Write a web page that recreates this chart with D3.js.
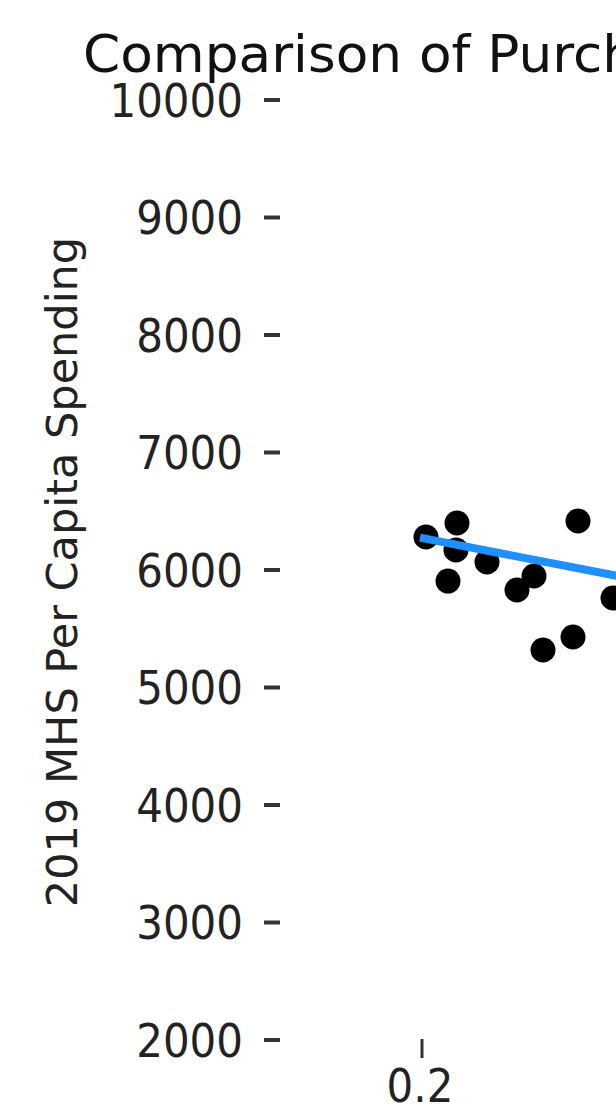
<!DOCTYPE html>
<html>
<head>
<meta charset="utf-8">
<script src="https://cdn.jsdelivr.net/npm/d3@7"></script>
<style>
  body { margin: 0; background: #fff; }
  svg { display: block; font-family: "DejaVu Sans", sans-serif; }
</style>
</head>
<body>
<div id="chart"></div>
<script>
// purchasing share (x) vs 2019 MHS per capita spending (y)
const shareValues = [0.2016, 0.214, 0.2136, 0.2104, 0.226, 0.238, 0.2448, 0.2624, 0.2484, 0.2604, 0.2764];
const spendingValues = [6281, 6400, 6170, 5906, 6068, 5830, 5949, 6417, 5319, 5430, 5762];

// fitted trend line end points
const trendX = [0.1992, 0.30];
const trendY = [6275, 5860];

const yTicks = [2000, 3000, 4000, 5000, 6000, 7000, 8000, 9000, 10000];
const xTicks = [0.2];

const width = 616, height = 1107;

const svg = d3.select("#chart")
  .append("svg")
  .attr("width", width)
  .attr("height", height);

const x = d3.scaleLinear().domain([0.2, 0.3]).range([422, 672]);
const y = d3.scaleLinear().domain([2000, 10000]).range([1040, 100]);

// title (cut off on the right like the original)
svg.append("text")
  .attr("transform", "translate(83,72) scale(1.025,1)")
  .style("font-size", "52px")
  .style("fill", "#111")
  .text("Comparison of Purchasing Share and MHS Per Capita Spending");

// y axis: labels + short dash ticks, no spine
const yAxis = svg.append("g").attr("class", "y-axis");
yAxis.selectAll("text")
  .data(yTicks)
  .enter()
  .append("text")
  .attr("transform", (d) => "translate(243," + y(d) + ") scale(1,1.1)")
  .attr("dy", "0.36em")
  .attr("text-anchor", "end")
  .style("font-size", "42px")
  .style("fill", "#222")
  .text((d) => d);
yAxis.selectAll("line")
  .data(yTicks)
  .enter()
  .append("line")
  .attr("x1", 264)
  .attr("x2", 280)
  .attr("y1", (d) => y(d))
  .attr("y2", (d) => y(d))
  .style("stroke", "#333")
  .style("stroke-width", 4);

svg.append("text")
  .attr("transform", "translate(77,572) rotate(-90)")
  .attr("text-anchor", "middle")
  .style("font-size", "43px")
  .style("fill", "#222")
  .text("2019 MHS Per Capita Spending");

// x axis
const xAxis = svg.append("g").attr("class", "x-axis");
xAxis.selectAll("line")
  .data(xTicks)
  .enter()
  .append("line")
  .attr("x1", (d) => x(d))
  .attr("x2", (d) => x(d))
  .attr("y1", 1039)
  .attr("y2", 1058)
  .style("stroke", "#333")
  .style("stroke-width", 3);
xAxis.selectAll("text")
  .data(xTicks)
  .enter()
  .append("text")
  .attr("transform", (d) => "translate(" + (x(d) - 2) + ",1102) scale(1,1.1)")
  .attr("text-anchor", "middle")
  .style("font-size", "42px")
  .style("fill", "#222")
  .text((d) => d.toFixed(1));

// points
svg.append("g")
  .selectAll("circle")
  .data(shareValues)
  .enter()
  .append("circle")
  .attr("cx", (d) => x(d))
  .attr("cy", (d, i) => y(spendingValues[i]))
  .attr("r", 12.5)
  .style("fill", "#000");

// trend line on top
const trend = d3.line()
  .x((d) => x(d[0]))
  .y((d) => y(d[1]));
svg.append("path")
  .datum(trendX.map((d, i) => [d, trendY[i]]))
  .attr("d", trend)
  .style("fill", "none")
  .style("stroke", "#1e90ff")
  .style("stroke-width", 8);
</script>
</body>
</html>
